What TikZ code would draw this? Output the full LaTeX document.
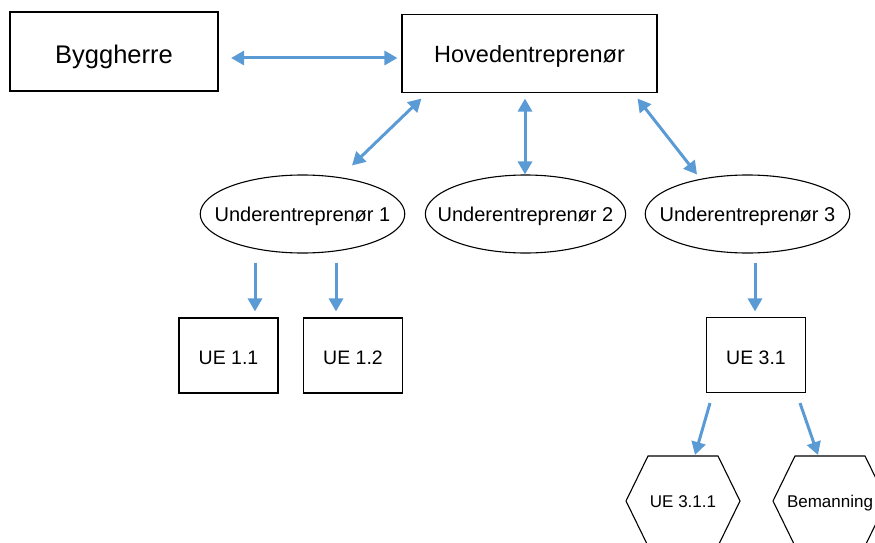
\documentclass[tikz,border=0pt]{standalone}
\usepackage{fontspec}
\setmainfont{Liberation Sans}
\usepackage{xcolor}
\usetikzlibrary{positioning,shapes.geometric,arrows.meta}
\definecolor{linkblue}{RGB}{91,155,213}

\begin{document}
\begin{tikzpicture}[x=1pt,y=-1pt,
    every node/.style={font=\fontsize{19.5}{22}\selectfont,text depth=0pt},
    box/.style={draw,line width=1.1pt,minimum width=99pt,minimum height=75pt,text height=18pt},
    oval/.style={draw,ellipse,line width=1.1pt,minimum height=78pt,inner ysep=0pt,
      inner xsep=-15.5pt,font=\fontsize{20}{24}\selectfont,text height=15pt},
    hexa/.style={font=\fontsize{17}{20}\selectfont,text height=12pt},
    link/.style={{Triangle[length=13pt,width=14pt]}-{Triangle[length=13pt,width=14pt]},
      linkblue,line width=3pt},
    down/.style={-{Triangle[length=13pt,width=14pt]},linkblue,line width=3pt}]
    \useasboundingbox (0,0) rectangle (875,543);
    \clip (0,0) rectangle (875,543);
    \node[draw,line width=2.2pt,minimum width=208pt,minimum height=79pt,text height=23.2pt,
      font=\fontsize{25.5}{30}\selectfont] (Bygg) at (114,51.5) {Byggherre};
    \node[draw,line width=1.1pt,minimum width=255pt,minimum height=78pt,text height=18.8pt,
      font=\fontsize{23.5}{27}\selectfont] (Hoved) at (529.5,53.5) {Hovedentreprenør};
    \node[oval] (UEnt1) at (302.5,214) {Underentreprenør 1};
    \node[oval,inner xsep=-17pt] (UEnt2) at (525.5,214) {Underentreprenør 2};
    \node[oval] (UEnt3) at (747.5,214) {Underentreprenør 3};
    \node[box] (UE11) at (228.5,355.5) {UE 1.1};
    \node[box] (UE12) at (353,355.5) {UE 1.2};
    \node[box] (UE31) at (756,355) {UE 3.1};
    \node[hexa] (UE311) at (683,501) {UE 3.1.1};
    \node[hexa] (Bemann) at (830,501) {Bemanning};
    % hexagons
    \draw[line width=1.1pt] (UE311.center) +(-57,0) -- +(-35,-45) -- +(35,-45)
      -- +(57,0) -- +(35,45) -- +(-35,45) -- cycle;
    \draw[line width=1.1pt] (Bemann.center) +(-57,0) -- +(-35,-45) -- +(35,-45)
      -- +(57,0) -- +(35,45) -- +(-35,45) -- cycle;
    % links
    \draw[link] ([xshift=12pt,yshift=-6.5pt]Bygg.east) -- ([xshift=-4pt,yshift=-4.5pt]Hoved.west);
    \draw[link] ([xshift=20pt,yshift=-5.5pt]Hoved.south west) -- ([xshift=49.5pt,yshift=9pt]UEnt1.north);
    \draw[link] ([xshift=-4.5pt,yshift=-5.5pt]Hoved.south) -- ([xshift=-.5pt]UEnt2.north);
    \draw[link] ([xshift=-20pt,yshift=-5.5pt]Hoved.south east) -- ([xshift=-50.5pt]UEnt3.north);
    \draw[down] ([xshift=-47.5pt,yshift=-9pt]UEnt1.south) -- ([xshift=26.5pt,yshift=6pt]UE11.north);
    \draw[down] ([xshift=33.5pt,yshift=-9pt]UEnt1.south) -- ([xshift=-17pt,yshift=6pt]UE12.north);
    \draw[down] ([xshift=7.5pt,yshift=-9pt]UEnt3.south) -- ([xshift=-1pt,yshift=5.5pt]UE31.north);
    \draw[down] ([xshift=-46pt,yshift=-10pt]UE31.south) -- ([xshift=12pt,yshift=46pt]UE311.center);
    \draw[down] ([xshift=44pt,yshift=-10pt]UE31.south) -- ([xshift=-12pt,yshift=46pt]Bemann.center);
  \end{tikzpicture}
\end{document}
